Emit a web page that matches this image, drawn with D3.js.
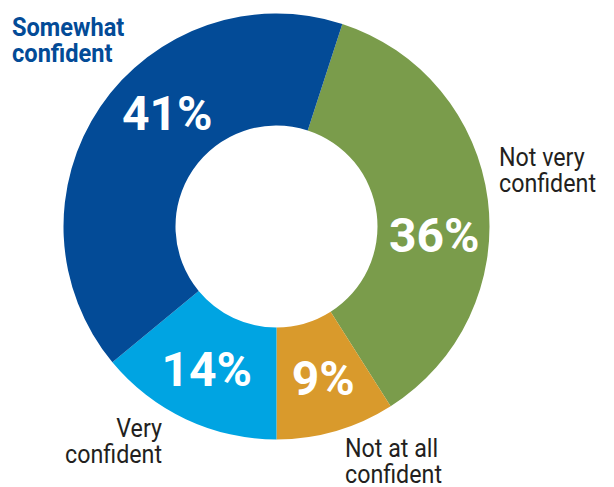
<!DOCTYPE html>
<html>
<head>
<meta charset="utf-8">
<script src="https://cdn.jsdelivr.net/npm/d3@7"></script>
<style>
  html, body { margin: 0; padding: 0; background: #fff; }
  svg { display: block; }
  text { font-family: Roboto, "Noto Sans", sans-serif; }
</style>
</head>
<body>
<svg id="chart" width="614" height="487"></svg>
<script>
// Survey answers, drawn clockwise starting just right of 12 o'clock
const categories = ["Not very confident", "Not at all confident", "Very confident", "Somewhat confident"];
const values = [36, 9, 14, 41];
const colors = ["#7a9c4b", "#d99a2c", "#00a4e2", "#034b97"];
const valueLabels = ["36%", "9%", "14%", "41%"];

const width = 614, height = 487;
const cx = 276.5, cy = 226.5;
const outerR = 213, innerR = 101;
const startDeg = 18;

const svg = d3.select("#chart");
const g = svg.append("g").attr("transform", `translate(${cx},${cy})`);

const pie = d3.pie()
  .sort(null)
  .value(d => d.value)
  .startAngle(startDeg * Math.PI / 180)
  .endAngle((startDeg + 360) * Math.PI / 180);

const data = categories.map((c, i) => ({ category: c, value: values[i], color: colors[i], label: valueLabels[i] }));
const arcs = pie(data);

const arc = d3.arc().innerRadius(innerR).outerRadius(outerR);

g.selectAll("path.slice")
  .data(arcs)
  .join("path")
  .attr("class", "slice")
  .attr("d", arc)
  .attr("fill", d => d.data.color);

// Percentage labels sit on the ring's mid-radius; a few are rotated off the
// slice midpoint so they clear the hole
const labelRadius = 158;
const angleNudge = { "Not very confident": 10, "Not at all confident": -1, "Very confident": 1, "Somewhat confident": 12 };
const labelAngle = d => (d.startAngle + d.endAngle) / 2 + angleNudge[d.data.category] * Math.PI / 180;
g.selectAll("text.pct")
  .data(arcs)
  .join("text")
  .attr("class", "pct")
  .attr("x", d => Math.sin(labelAngle(d)) * labelRadius)
  .attr("y", d => -Math.cos(labelAngle(d)) * labelRadius)
  .attr("text-anchor", "middle")
  .attr("dy", "0.36em")
  .attr("fill", "#fff")
  .attr("font-weight", 700)
  .attr("font-size", 48)
  .text(d => d.data.label);

// Category names around the ring
const placement = {
  "Somewhat confident":   { x: 12,  y: 36,  anchor: "start", color: "#034b97", weight: 700, sx: 0.945 },
  "Not very confident":   { x: 499, y: 166, anchor: "start", color: "#231f20", weight: 400, sx: 0.93 },
  "Very confident":       { x: 162, y: 437, anchor: "end",   color: "#231f20", weight: 400, sx: 0.93 },
  "Not at all confident": { x: 345, y: 457, anchor: "start", color: "#231f20", weight: 400, sx: 0.93 }
};
const lineBreaks = {
  "Somewhat confident": ["Somewhat", "confident"],
  "Not very confident": ["Not very", "confident"],
  "Very confident": ["Very", "confident"],
  "Not at all confident": ["Not at all", "confident"]
};

categories.forEach(c => {
  const p = placement[c];
  const t = svg.append("text")
    .attr("text-anchor", p.anchor)
    .attr("fill", p.color)
    .attr("font-weight", p.weight)
    .attr("font-size", 25)
    .attr("transform", `translate(${p.x},${p.y}) scale(${p.sx},1)`);
  lineBreaks[c].forEach((line, i) => {
    t.append("tspan").attr("x", 0).attr("y", i * 26.5).text(line);
  });
});
</script>
</body>
</html>
